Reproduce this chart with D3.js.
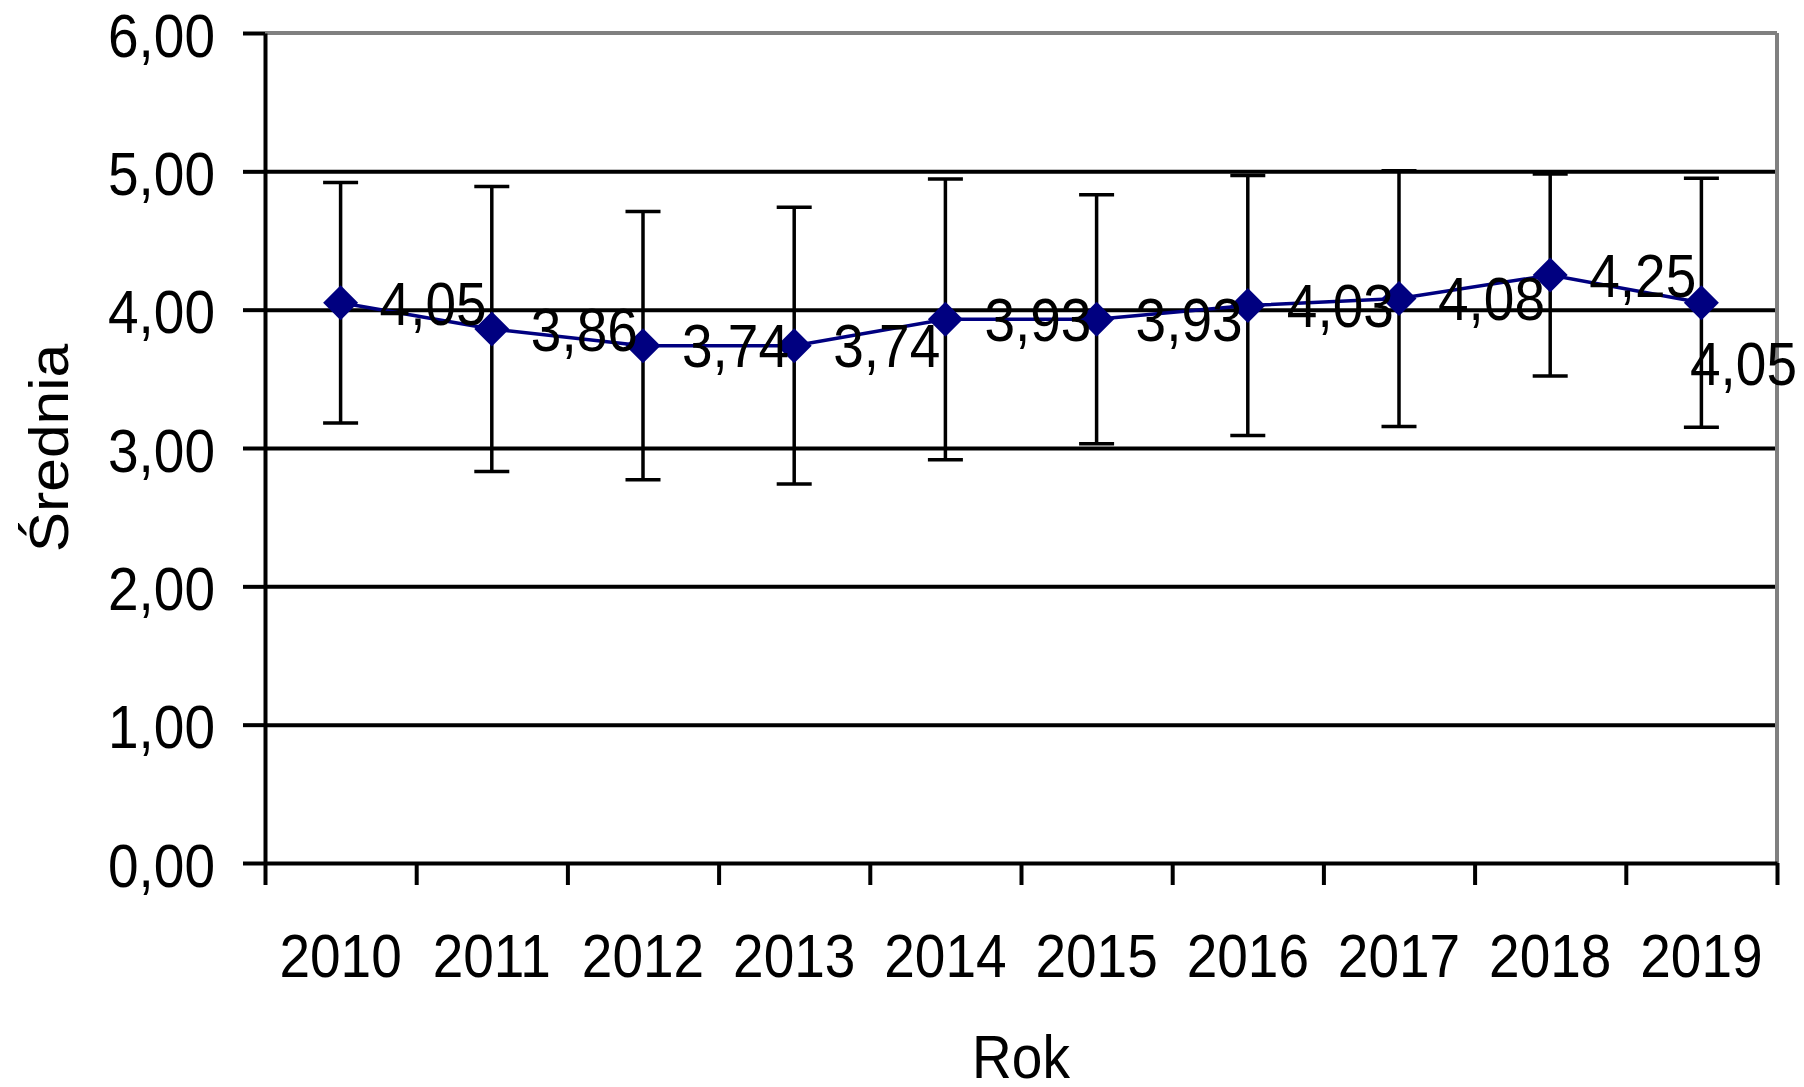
<!DOCTYPE html>
<html lang="pl">
<head>
    <meta charset="UTF-8">
    <title>Średnia</title>
    <script src="https://cdn.jsdelivr.net/npm/d3@7"></script>
    <style>
        body{
            margin: 0;
            background-color: #fff;
        }
        svg text{
            font-family: "Liberation Sans", Arial, sans-serif;
            fill: #000;
        }
    </style>
</head>
<body>
    <script>
        const lata = ["2010","2011","2012","2013","2014","2015","2016","2017","2018","2019"]
        const srednia = [4.05, 3.86, 3.74, 3.74, 3.93, 3.93, 4.03, 4.08, 4.25, 4.05]
        const odchylenie = [0.87, 1.03, 0.97, 1.00, 1.015, 0.90, 0.94, 0.925, 0.73, 0.90]
        const yTicks = [0, 1, 2, 3, 4, 5, 6]
        const gridTicks = [1, 2, 3, 4, 5]

        const W = 1804, H = 1087
        const margin = {top: 33, right: 27, bottom: 224, left: 265}
        const width = W - margin.left - margin.right
        const height = H - margin.top - margin.bottom
        const fontSize = 55
        const stretch = "scale(1,1.1)"   // original text is a bit taller than Arial

        const pl = d3.formatLocale({decimal: ",", thousands: " ", grouping: [3], currency: ["", " zł"]})
        const fmt = pl.format(".2f")

        const svg = d3.select("body").append("svg")
            .attr("width", W)
            .attr("height", H)

        const g = svg.append("g")
            .attr("transform", `translate(${margin.left},${margin.top})`)

        const x = d3.scaleBand().domain(lata).range([0, width])
        const xb = d3.scaleLinear().domain([0, lata.length]).range([0, width])
        const y = d3.scaleLinear().domain([0, 6]).range([height, 0])

        // gridlines
        g.append("g")
            .call(d3.axisLeft(y).tickValues(gridTicks).tickSize(-width).tickFormat(""))
            .call(a => a.select(".domain").remove())
            .selectAll("line")
            .attr("stroke", "#000")
            .attr("stroke-width", 4)

        // plot border (top / right)
        g.append("line").attr("x1", 0).attr("x2", width).attr("y1", 0).attr("y2", 0)
            .attr("stroke", "#808080").attr("stroke-width", 4)
        g.append("line").attr("x1", width).attr("x2", width).attr("y1", 0).attr("y2", height)
            .attr("stroke", "#808080").attr("stroke-width", 4)

        // y axis
        g.append("g")
            .call(d3.axisLeft(y).tickValues(yTicks).tickSize(22).tickSizeOuter(0).tickPadding(28).tickFormat(fmt))
            .call(a => a.select(".domain").attr("stroke", "#000").attr("stroke-width", 4))
            .call(a => a.selectAll("line").attr("stroke", "#000").attr("stroke-width", 4))
            .selectAll("text")
            .attr("font-size", fontSize)
            .attr("dy", "0.38em")
            .attr("transform", stretch)

        // x axis ticks between categories
        g.append("g")
            .attr("transform", `translate(0,${height})`)
            .call(d3.axisBottom(xb).tickValues(d3.range(lata.length + 1)).tickSize(22).tickSizeOuter(0).tickFormat(""))
            .call(a => a.select(".domain").attr("stroke", "#000").attr("stroke-width", 4))
            .selectAll("line").attr("stroke", "#000").attr("stroke-width", 4)

        // x labels
        g.append("g")
            .attr("transform", `translate(0,${height})`)
            .call(d3.axisBottom(x).tickSize(0))
            .call(a => a.select(".domain").remove())
            .selectAll("text")
            .attr("font-size", fontSize)
            .attr("y", 114 / 1.1)
            .attr("dy", 0)
            .attr("transform", stretch)

        // axis titles
        svg.append("text")
            .attr("transform", `translate(${margin.left + width / 2},1078) ${stretch}`)
            .attr("text-anchor", "middle")
            .attr("font-size", fontSize)
            .text("Rok")
        svg.append("text")
            .attr("transform", `translate(68,${margin.top + height / 2}) rotate(-90) scale(1.1,1)`)
            .attr("text-anchor", "middle")
            .attr("font-size", fontSize)
            .text("Średnia")

        const cx = (d, i) => x(lata[i]) + x.bandwidth() / 2

        // error bars
        const err = g.append("g").attr("stroke", "#000").attr("stroke-width", 3.5)
        srednia.forEach((d, i) => {
            const px = cx(d, i)
            const y0 = y(d - odchylenie[i]), y1 = y(d + odchylenie[i])
            err.append("line").attr("x1", px).attr("x2", px).attr("y1", y0).attr("y2", y1)
            err.append("line").attr("x1", px - 17.5).attr("x2", px + 17.5).attr("y1", y0).attr("y2", y0)
            err.append("line").attr("x1", px - 17.5).attr("x2", px + 17.5).attr("y1", y1).attr("y2", y1)
        })

        // line
        g.append("path")
            .datum(srednia)
            .attr("fill", "none")
            .attr("stroke", "#000080")
            .attr("stroke-width", 3.5)
            .attr("d", d3.line().x(cx).y(d => y(d)))

        // markers
        g.selectAll(".marker")
            .data(srednia)
            .join("path")
            .classed("marker", true)
            .attr("d", d3.symbol(d3.symbolSquare, 612))
            .attr("fill", "#000080")
            .attr("transform", (d, i) => `translate(${cx(d, i)},${y(d)}) rotate(45)`)

        // value labels
        g.selectAll(".val")
            .data(srednia)
            .join("text")
            .classed("val", true)
            .attr("font-size", fontSize)
            .attr("dy", "0.36em")
            .attr("transform", (d, i) => {
                // last label does not fit on the right, so it goes below
                if (i === srednia.length - 1) return `translate(${1690 - margin.left},${y(d) + 60}) ${stretch}`
                return `translate(${cx(d, i) + 39},${y(d)}) ${stretch}`
            })
            .text(d => fmt(d))
    </script>
</body>
</html>
